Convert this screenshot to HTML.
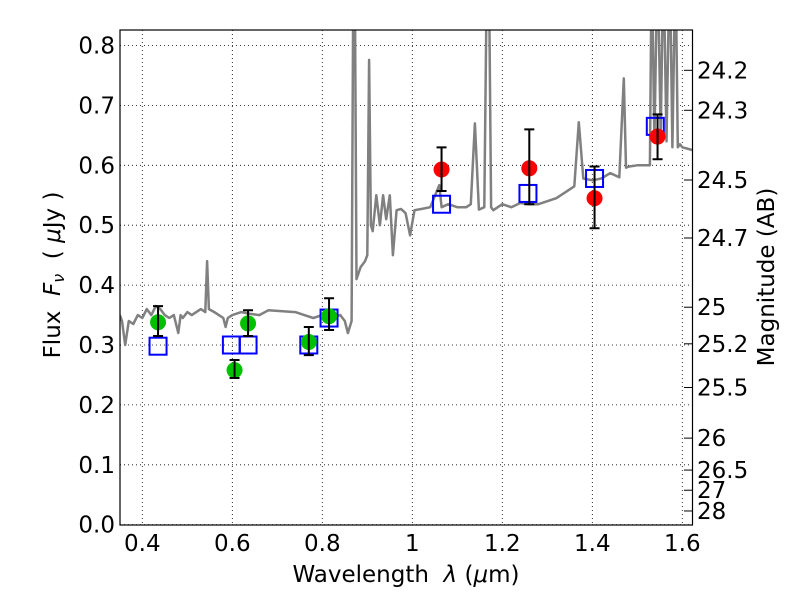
<!DOCTYPE html>
<html><head><meta charset="utf-8"><style>
html,body{margin:0;padding:0;background:#fff;}
svg{display:block;font-family:"DejaVu Sans","Liberation Sans",sans-serif;}
</style></head><body>
<svg id="chart" width="800" height="600" viewBox="0 0 800 600" xmlns="http://www.w3.org/2000/svg">
<rect x="0" y="0" width="800" height="600" fill="#fff"/>
<g id="grid"></g>
<g id="clip-layer" clip-path="url(#plotclip)">
<polyline id="spectrum" fill="none" stroke="#808080" stroke-width="2.5" stroke-linejoin="round"/>
</g>
<defs><clipPath id="plotclip"><rect x="120" y="30" width="572" height="495"/></clipPath></defs>
<g id="marks"></g>
<rect x="120" y="30" width="572.5" height="495" fill="none" stroke="#000" stroke-width="1.2"/>
<g id="axes" font-size="23" fill="#000"></g>
<text x="406" y="582" text-anchor="middle" font-size="23">Wavelength&#160;&#160;<tspan font-style="italic">λ</tspan> (<tspan font-style="italic">μ</tspan>m)</text>
<text transform="translate(60,275) rotate(-90)" text-anchor="middle" font-size="23">Flux&#160;&#160;<tspan font-style="italic">F<tspan font-size="16" dy="4">ν</tspan></tspan><tspan dy="-4">&#160;&#160;(&#160;</tspan><tspan font-style="italic">μ</tspan>Jy )</text>
<text transform="translate(774,277) rotate(-90)" text-anchor="middle" font-size="23">Magnitude (AB)</text>
</svg>
<script>
const xTicks=[0.4,0.6,0.8,1.0,1.2,1.4,1.6];
const xTickLabels=["0.4","0.6","0.8","1","1.2","1.4","1.6"];
const yTicks=[0,0.1,0.2,0.3,0.4,0.5,0.6,0.7,0.8];
const yTickLabels=["0.0","0.1","0.2","0.3","0.4","0.5","0.6","0.7","0.8"];
const magTicks=[24.2,24.3,24.5,24.7,25,25.2,25.5,26,26.5,27,28];
const specWave=[0.35,0.355,0.362,0.37,0.38,0.39,0.40,0.41,0.42,0.43,0.44,0.45,0.46,0.47,0.48,0.485,0.49,0.50,0.51,0.52,0.53,0.54,0.544,0.548,0.56,0.57,0.58,0.585,0.59,0.60,0.62,0.64,0.66,0.68,0.70,0.72,0.74,0.76,0.78,0.80,0.82,0.84,0.85,0.857,0.865,0.869,0.872,0.876,0.885,0.895,0.900,0.904,0.908,0.912,0.92,0.928,0.935,0.942,0.95,0.957,0.965,0.975,0.985,0.995,1.005,1.02,1.04,1.06,1.065,1.08,1.10,1.12,1.13,1.139,1.148,1.16,1.166,1.17,1.175,1.18,1.20,1.22,1.24,1.26,1.28,1.30,1.32,1.34,1.36,1.37,1.38,1.40,1.42,1.44,1.46,1.47,1.475,1.482,1.50,1.52,1.528,1.532,1.538,1.545,1.552,1.558,1.565,1.572,1.578,1.585,1.59,1.595,1.60,1.61,1.625];
const specFlux=[0.35,0.34,0.30,0.34,0.335,0.35,0.345,0.36,0.35,0.365,0.36,0.35,0.345,0.35,0.32,0.35,0.345,0.355,0.35,0.355,0.36,0.355,0.44,0.36,0.355,0.35,0.345,0.33,0.345,0.35,0.355,0.352,0.35,0.358,0.357,0.356,0.355,0.35,0.345,0.35,0.345,0.35,0.34,0.32,0.34,0.95,0.95,0.41,0.43,0.44,0.45,0.776,0.50,0.49,0.55,0.50,0.55,0.51,0.55,0.45,0.525,0.527,0.52,0.483,0.525,0.527,0.53,0.567,0.53,0.535,0.53,0.53,0.535,0.67,0.526,0.53,0.95,0.95,0.53,0.525,0.535,0.53,0.537,0.535,0.535,0.54,0.545,0.555,0.565,0.672,0.578,0.575,0.578,0.587,0.58,0.745,0.596,0.598,0.6,0.6,0.6,0.95,0.64,0.95,0.65,0.95,0.64,0.95,0.63,0.95,0.63,0.635,0.63,0.628,0.625];
const greenWave=[0.435,0.605,0.635,0.77,0.815];
const greenFlux=[0.338,0.258,0.336,0.305,0.348];
const greenLo=[0.315,0.245,0.315,0.283,0.325];
const greenHi=[0.365,0.275,0.358,0.33,0.378];
const redWave=[1.065,1.26,1.405,1.545];
const redFlux=[0.593,0.595,0.545,0.648];
const redLo=[0.557,0.535,0.495,0.61];
const redHi=[0.63,0.66,0.598,0.685];
const modelWave=[0.435,0.598,0.635,0.77,0.815,1.065,1.257,1.405,1.54];
const modelFlux=[0.298,0.3,0.3,0.3,0.345,0.535,0.553,0.578,0.665];

const NS="http://www.w3.org/2000/svg";
const X0=119.8,XS=450,XMIN=0.35;
const Y0=524.7,YS=599;
function sx(w){return X0+(w-XMIN)*XS;}
function sy(f){return Y0-f*YS;}
function mk(t,a,p){const e=document.createElementNS(NS,t);for(const k in a)e.setAttribute(k,a[k]);p.appendChild(e);return e;}
const grid=document.getElementById('grid'),axes=document.getElementById('axes'),marks=document.getElementById('marks');
xTicks.forEach((v,i)=>{const x=sx(v);
 const g=mk('line',{x1:x,x2:x,y1:30,y2:525,stroke:'#000','stroke-width':0.8,'stroke-dasharray':'1,3'},grid);
 
 
 const t=mk('text',{x:x,y:551,'text-anchor':'middle'},axes);t.textContent=xTickLabels[i];
 
 
});
yTicks.forEach((v,i)=>{const y=sy(v);
 const g=mk('line',{x1:120,x2:692,y1:y,y2:y,stroke:'#000','stroke-width':0.8,'stroke-dasharray':'1,3'},grid);
 
 
 const t=mk('text',{x:115,y:y+8,'text-anchor':'end'},axes);t.textContent=yTickLabels[i];
 
 
});
magTicks.forEach(m=>{const y=sy(Math.pow(10,(23.9-m)/2.5));
 const l=mk('line',{x1:684,x2:692.5,y1:y,y2:y,stroke:'#000','stroke-width':1},axes);
 
 
 const t=mk('text',{x:697,y:y+8,'text-anchor':'start'},axes);t.textContent=String(m);
 
 
});
document.getElementById('spectrum').setAttribute('points',specWave.map((w,i)=>sx(w).toFixed(1)+','+sy(specFlux[i]).toFixed(1)).join(' '));
modelWave.forEach((w,i)=>{const x=sx(w),y=sy(modelFlux[i]);
 const r=mk('rect',{x:x-8.5,y:y-8.5,width:17,height:17,fill:'none',stroke:'#0000ff','stroke-width':2},marks);
 
 
});
function pts(ws,fs,lo,hi,col,name){ws.forEach((w,i)=>{const x=sx(w);
 const c=mk('circle',{cx:x,cy:sy(fs[i]),r:8,fill:col},marks);
 
 
 const e=mk('path',{d:`M${x},${sy(lo[i])}V${sy(hi[i])}M${x-5},${sy(lo[i])}H${x+5}M${x-5},${sy(hi[i])}H${x+5}`,stroke:'#000','stroke-width':2,fill:'none'},marks);
 
 
});}
pts(greenWave,greenFlux,greenLo,greenHi,'#00c000','photometry-green');
pts(redWave,redFlux,redLo,redHi,'#ff0000','photometry-red');
</script>
</body></html>
